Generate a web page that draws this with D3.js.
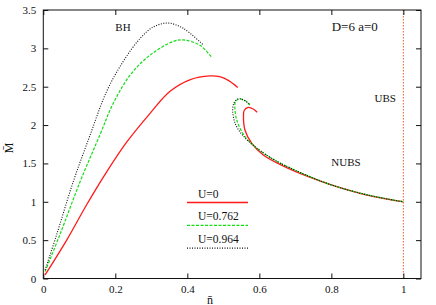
<!DOCTYPE html>
<html>
<head>
<meta charset="utf-8">
<script src="https://cdn.jsdelivr.net/npm/d3@7"></script>
<style>
  body { margin: 0; background: #fff; }
  text { font-family: "Liberation Serif", "DejaVu Serif", serif; fill: #111; }
</style>
</head>
<body>
<div id="chart"></div>
<script>
// tick values
const xTicks = [0, 0.2, 0.4, 0.6, 0.8, 1];
const yTicks = [0, 0.5, 1, 1.5, 2, 2.5, 3, 3.5];

// U=0 (red), upper BH branch and lower NUBS branch
const redUpperX = [0.005, 0.065, 0.12, 0.176, 0.232, 0.296, 0.352, 0.407, 0.463, 0.49, 0.515, 0.54];
const redUpperY = [0.046, 0.5, 0.958, 1.39, 1.78, 2.15, 2.44, 2.59, 2.64, 2.63, 2.58, 2.49];
const redLowerX = [0.594, 0.583, 0.569, 0.558, 0.556, 0.56, 0.579, 0.611, 0.667, 0.736, 0.8, 0.896, 1.0];
const redLowerY = [2.167, 2.21, 2.23, 2.19, 2.13, 1.936, 1.76, 1.61, 1.465, 1.327, 1.22, 1.09, 1.0];

// U=0.762 (green)
const greenUpperX = [0.005, 0.046, 0.102, 0.157, 0.194, 0.241, 0.296, 0.361, 0.389, 0.435, 0.468];
const greenUpperY = [0.09, 0.57, 1.26, 1.87, 2.28, 2.65, 2.91, 3.09, 3.11, 3.04, 2.88];
const greenLowerX = [0.574, 0.56, 0.545, 0.534, 0.532, 0.537, 0.56, 0.593, 0.64, 0.7, 0.8, 0.9, 1.0];
const greenLowerY = [2.26, 2.32, 2.34, 2.31, 2.26, 2.07, 1.85, 1.7, 1.55, 1.41, 1.22, 1.09, 1.0];

// U=0.964 (black)
const blackUpperX = [0.005, 0.037, 0.083, 0.13, 0.176, 0.222, 0.269, 0.306, 0.347, 0.389, 0.443];
const blackUpperY = [0.11, 0.57, 1.26, 1.87, 2.44, 2.83, 3.13, 3.28, 3.33, 3.26, 3.05];
const blackLowerX = [0.572, 0.555, 0.54, 0.53, 0.526, 0.533, 0.555, 0.59, 0.64, 0.7, 0.8, 0.9, 1.0];
const blackLowerY = [2.275, 2.33, 2.34, 2.29, 2.2, 2.02, 1.86, 1.71, 1.55, 1.41, 1.22, 1.09, 1.0];

const legendLabels = ["U=0", "U=0.762", "U=0.964"];

const W = 436, H = 305;
const margin = { top: 10, right: 15, bottom: 26.5, left: 43.3 };
const width = W - margin.left - margin.right,
  height = H - margin.top - margin.bottom;

const x = d3.scaleLinear().domain([0, 1.049]).range([0, width]);
const y = d3.scaleLinear().domain([0, 3.5]).range([height, 0]);

const svg = d3.select("#chart").append("svg").attr("width", W).attr("height", H);
const g = svg.append("g").attr("transform", "translate(" + margin.left + "," + margin.top + ")");

const styles = [
  { color: "#ff1a1a", dash: null, width: 1.3 },
  { color: "#12dd12", dash: "3,1.5", width: 1.2 },
  { color: "#111", dash: "1,1.5", width: 1.1 }
];

function pairs(xs, ys) {
  return xs.map((v, i) => [v, ys[i]]);
}

const series = [
  { s: 0, pts: pairs(redUpperX, redUpperY) },
  { s: 0, pts: pairs(redLowerX, redLowerY) },
  { s: 1, pts: pairs(greenUpperX, greenUpperY) },
  { s: 1, pts: pairs(greenLowerX, greenLowerY) },
  { s: 2, pts: pairs(blackUpperX, blackUpperY) },
  { s: 2, pts: pairs(blackLowerX, blackLowerY) }
];

const line = d3.line()
  .x((d) => x(d[0]))
  .y((d) => y(d[1]))
  .curve(d3.curveCatmullRom.alpha(0.5));

// UBS vertical line at n=1
g.append("line")
  .attr("x1", x(1)).attr("x2", x(1))
  .attr("y1", 0).attr("y2", height)
  .attr("stroke", "#e8602a")
  .attr("stroke-width", 1)
  .attr("stroke-dasharray", "1.5,1.5");

g.selectAll(".curve")
  .data(series)
  .join("path")
  .attr("class", "curve")
  .attr("d", (d) => line(d.pts))
  .attr("fill", "none")
  .attr("stroke", (d) => styles[d.s].color)
  .attr("stroke-width", (d) => styles[d.s].width)
  .attr("stroke-dasharray", (d) => styles[d.s].dash);

// axes, ticks pointing inward
const axisStyle = (sel) => {
  sel.select(".domain").remove();
  sel.selectAll("line").attr("stroke", "#111");
  sel.selectAll("text").style("font-size", "11px").attr("fill", "#111");
};

g.append("g")
  .attr("transform", "translate(0," + height + ")")
  .call(d3.axisBottom(x).tickValues(xTicks).tickSize(-5).tickPadding(7).tickFormat(d3.format("")))
  .call(axisStyle);
g.append("g")
  .call(d3.axisTop(x).tickValues(xTicks).tickSize(-5).tickFormat(""))
  .call(axisStyle);
g.append("g")
  .call(d3.axisLeft(y).tickValues(yTicks).tickSize(-5).tickPadding(7).tickFormat(d3.format("")))
  .call(axisStyle);
g.append("g")
  .attr("transform", "translate(" + width + ",0)")
  .call(d3.axisRight(y).tickValues(yTicks).tickSize(-5).tickFormat(""))
  .call(axisStyle);

g.append("rect")
  .attr("x", 0).attr("y", 0)
  .attr("width", width).attr("height", height)
  .attr("fill", "none")
  .attr("stroke", "#111")
  .attr("stroke-width", 1);

// annotations
const labels = [
  { t: "BH", x: 0.2, y: 3.22 },
  { t: "D=6 a=0", x: 0.801, y: 3.23 },
  { t: "UBS", x: 0.92, y: 2.3 },
  { t: "NUBS", x: 0.80, y: 1.47 }
];
g.selectAll(".note")
  .data(labels)
  .join("text")
  .attr("class", "note")
  .attr("x", (d) => x(d.x))
  .attr("y", (d) => y(d.y))
  .style("font-size", (d) => (d.t === "D=6 a=0" ? "13px" : "11px"))
  .text((d) => d.t);

// legend
const legend = g.selectAll(".legend")
  .data(legendLabels)
  .join("g")
  .attr("class", "legend")
  .attr("transform", (d, i) => "translate(" + (187 - margin.left) + "," + (202.5 - margin.top + i * 22.8) + ")");
legend.append("text")
  .attr("x", 11)
  .attr("y", -5)
  .style("font-size", "11.5px")
  .text((d) => d);
legend.append("line")
  .attr("x1", 0).attr("x2", 61)
  .attr("stroke", (d, i) => styles[i].color)
  .attr("stroke-width", (d, i) => styles[i].width)
  .attr("stroke-dasharray", (d, i) => styles[i].dash);

// axis labels
svg.append("text")
  .attr("x", 210)
  .attr("y", 303.5)
  .attr("text-anchor", "middle")
  .style("font-size", "12px")
  .text("n\u0304");
svg.append("text")
  .attr("transform", "translate(13,148) rotate(-90)")
  .attr("text-anchor", "middle")
  .style("font-size", "12px")
  .text("M\u0304");
</script>
</body>
</html>
